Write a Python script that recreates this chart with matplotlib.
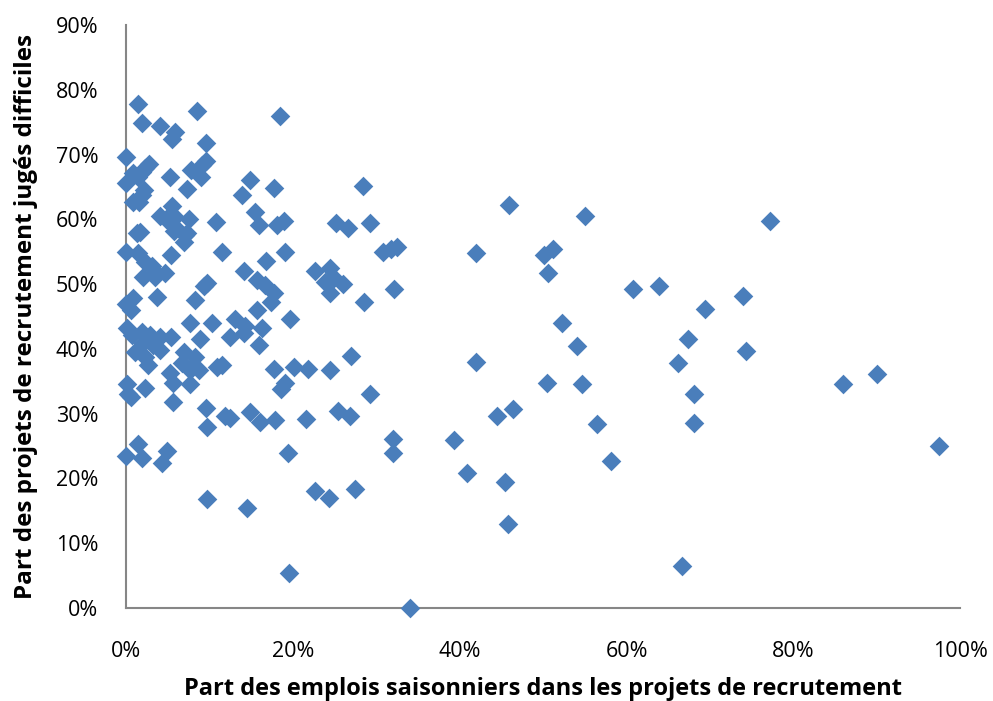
import matplotlib.pyplot as plt
from matplotlib.ticker import PercentFormatter

# part des emplois saisonniers (%) / part des projets jugés difficiles (%)
saisonniers = [
    1.4, 8.5, 1.9, 4.1, 5.9, 5.5, 9.6, 0.0, 9.6, 9.1, 7.8, 2.8, 2.3, 1.9, 0.8,
    1.4, 9.0, 5.3, 0.0, 14.9, 7.3, 2.2, 1.9, 13.9, 0.8, 1.6, 5.5, 4.1, 4.8, 5.9,
    7.5, 5.9, 10.8, 15.4, 15.9, 7.3, 1.3, 1.7, 7.1, 6.9, 5.8, 0.0, 1.4, 2.3, 3.1,
    3.5, 5.4, 11.5, 2.0, 3.5, 4.7, 14.1, 15.7, 9.7, 9.3, 0.8, 3.7, 0.0, 0.6, 8.3,
    15.7, 0.1, 0.7, 1.9, 2.9, 4.1, 5.4, 2.0, 3.2, 4.1, 7.6, 10.3, 8.8, 12.4, 13.1,
    14.3, 14.1, 15.9, 1.1, 2.3, 2.6, 6.9, 6.7, 8.3, 7.7, 8.7, 5.3, 5.6, 10.9, 11.5,
    0.1, 2.3, 7.6, 0.6, 0.2, 5.6, 9.6, 9.7, 11.8, 12.5, 14.8, 16.1, 1.4, 0.0, 1.9,
    4.9, 4.3, 9.7, 14.5, 18.4, 17.7, 28.4, 18.1, 18.9, 25.2, 26.6, 29.2, 30.8, 31.7,
    32.5, 19.0, 16.8, 22.7, 24.4, 16.6, 17.7, 17.4, 23.9, 24.9, 26.0, 24.5, 32.1,
    28.5, 19.6, 16.3, 27.0, 17.7, 20.1, 21.8, 24.4, 19.1, 18.6, 29.2, 17.8, 21.6,
    25.4, 26.8, 32.0, 32.0, 19.4, 22.7, 24.3, 27.5, 19.5, 34.0, 45.9, 55.0, 41.9,
    50.1, 51.2, 50.6, 52.3, 54.0, 41.9, 50.5, 54.6, 56.5, 44.5, 46.4, 39.3, 40.9,
    45.4, 45.8, 77.2, 60.8, 63.9, 73.9, 69.4, 67.4, 74.3, 66.2, 68.1, 68.1, 58.1,
    66.6, 85.9, 90.0, 97.5,
]
difficiles = [
    77.9, 76.7, 74.9, 74.4, 73.5, 72.4, 71.8, 69.6, 69.0, 68.4, 67.6, 68.5, 67.9,
    67.3, 67.1, 66.5, 66.5, 66.5, 65.7, 66.1, 64.7, 64.5, 63.7, 63.7, 62.7, 62.7,
    62.0, 60.6, 60.0, 60.3, 60.0, 58.8, 59.6, 61.1, 59.1, 57.9, 57.9, 58.0, 57.6,
    56.5, 58.2, 54.9, 54.8, 53.4, 52.8, 51.8, 54.5, 54.9, 51.1, 51.1, 51.7, 52.1,
    50.6, 50.1, 49.7, 47.8, 48.0, 46.9, 46.0, 47.5, 46.0, 43.3, 42.1, 42.6, 42.1,
    41.9, 41.8, 40.9, 40.6, 39.8, 44.0, 44.0, 41.6, 41.8, 44.6, 43.6, 42.4, 40.6,
    39.5, 38.7, 37.5, 39.5, 37.8, 38.7, 36.7, 36.7, 36.2, 34.7, 37.2, 37.5, 34.5,
    33.9, 34.5, 32.5, 33.1, 31.8, 30.8, 28.0, 29.7, 29.3, 30.2, 28.7, 25.3, 23.4,
    23.1, 24.2, 22.3, 16.8, 15.4, 75.9, 64.8, 65.1, 59.1, 59.7, 59.4, 58.6, 59.4,
    54.9, 55.5, 55.7, 54.9, 53.5, 52.1, 52.5, 49.8, 48.7, 47.2, 50.3, 50.9, 50.0,
    48.6, 49.2, 47.2, 44.6, 43.3, 38.9, 36.9, 37.2, 36.9, 36.7, 34.8, 33.8, 33.1,
    29.0, 29.1, 30.4, 29.7, 26.0, 23.9, 23.9, 18.0, 16.9, 18.3, 5.3, 0.0, 62.2,
    60.5, 54.8, 54.5, 55.5, 51.7, 44.0, 40.4, 37.9, 34.7, 34.5, 28.4, 29.7, 30.7,
    25.9, 20.8, 19.4, 12.9, 59.7, 49.2, 49.7, 48.1, 46.1, 41.5, 39.6, 37.8, 33.1,
    28.5, 22.6, 6.4, 34.5, 36.1, 25.0,
]

plt.rcParams['font.family'] = ['Open Sans', 'DejaVu Sans']

fig = plt.figure(figsize=(9.93, 7.01), dpi=100)
ax = fig.add_axes([0.127, 0.133, 0.840, 0.831])

ax.scatter(saisonniers, difficiles, marker='D', s=100, color='#4a7ebb',
           linewidths=0, zorder=3, clip_on=False)

ax.set_xlim(0, 100)
ax.set_ylim(0, 90)
ax.set_xticks(range(0, 101, 20))
ax.set_yticks(range(0, 91, 10))
ax.xaxis.set_major_formatter(PercentFormatter(decimals=0))
ax.yaxis.set_major_formatter(PercentFormatter(decimals=0))
ax.tick_params(length=0, labelsize=15.5, colors='black')
ax.tick_params(axis='x', pad=24)
ax.tick_params(axis='y', pad=20)

for s in ['top', 'right']:
    ax.spines[s].set_visible(False)
for s in ['left', 'bottom']:
    ax.spines[s].set_color('#868686')
    ax.spines[s].set_linewidth(1.5)

ax.set_xlabel('Part des emplois saisonniers dans les projets de recrutement',
              fontsize=17, fontweight='bold', labelpad=11)
ax.set_ylabel('Part des projets de recrutement jugés difficiles',
              fontsize=17.5, fontweight='bold', labelpad=13)

plt.savefig('out.png', dpi=100)
